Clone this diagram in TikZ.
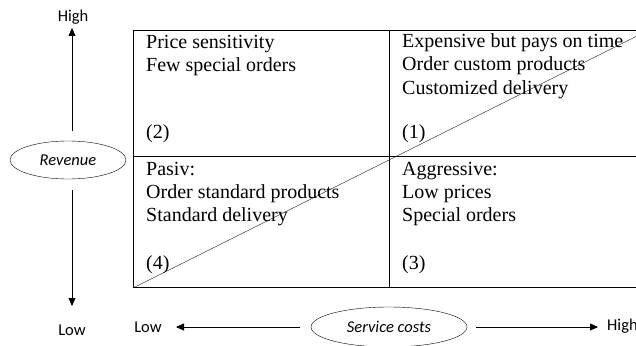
\documentclass[tikz,border=0pt]{standalone}
\usepackage{fontspec}
\setmainfont{Liberation Serif}
\newfontfamily\labfont{Carlito}
\usetikzlibrary{shapes.geometric,arrows.meta}
\begin{document}
\begin{tikzpicture}[x=1pt,y=-1pt,
  cell/.style={anchor=base west,inner sep=0pt,font=\fontsize{20}{23.2}\selectfont,align=left},
  lab/.style={inner sep=0pt,font=\labfont\fontsize{16.5}{18}\selectfont},
  oval/.style={draw,ellipse,thin,inner sep=0pt,font=\labfont\itshape\fontsize{16.5}{18}\selectfont},
  axis/.style={thin,-{Triangle[length=8pt,width=7pt]}},
  grid/.style={line width=0.8pt}]
\useasboundingbox (0,0) rectangle (636,345);
\clip (0,0) rectangle (636,345);
% table
\coordinate (tl) at (133,30);
\coordinate (br) at (660,287);
\coordinate (bl) at (133,288);
\coordinate (diagEnd) at (660,24.5);
\draw[grid] (tl) rectangle (br);
\draw[grid] (389,30) -- (389,287);
\draw[grid] (133,156) -- (660,156);
\draw[thin] (bl) -- (diagEnd);
% cells (base anchor = baseline of last line)
\node[cell] (c2) at (146,71.5) {Price sensitivity\\Few special orders};
\node[cell] (n2) at (146,138) {(2)};
\node[cell] (c1) at (402,94) {Expensive but pays on time\\Order custom products\\Customized delivery};
\node[cell] (n1) at (402,138) {(1)};
\node[cell] (c4) at (146,221.5) {Pasiv:\\Order standard products\\Standard delivery};
\node[cell] (n4) at (146,269) {(4)};
\node[cell] (c3) at (402,221.5) {Aggressive:\\Low prices\\Special orders};
\node[cell] (n3) at (402,269) {(3)};
% revenue axis
\node[oval,minimum width=116pt,minimum height=38pt] (rev) at (68,160) {Revenue};
\node[lab] (rhigh) at (73,17) {High};
\node[lab] (rlow) at (72,330) {Low};
\coordinate (rup) at (72,28);
\coordinate (rdn) at (72,306);
\draw[axis] (72,131) -- (rup);
\draw[axis] (72,190) -- (rdn);
% service cost axis
\node[oval,minimum width=156pt,minimum height=40pt] (sc) at (389,327) {Service costs};
\node[lab] (slow) at (148,327) {Low};
\node[lab,anchor=west] (shigh) at (607,326) {High};
\draw[axis] (300,327) -- (176,327);
\draw[axis] (476,327) -- (598,327);
\end{tikzpicture}
\end{document}
